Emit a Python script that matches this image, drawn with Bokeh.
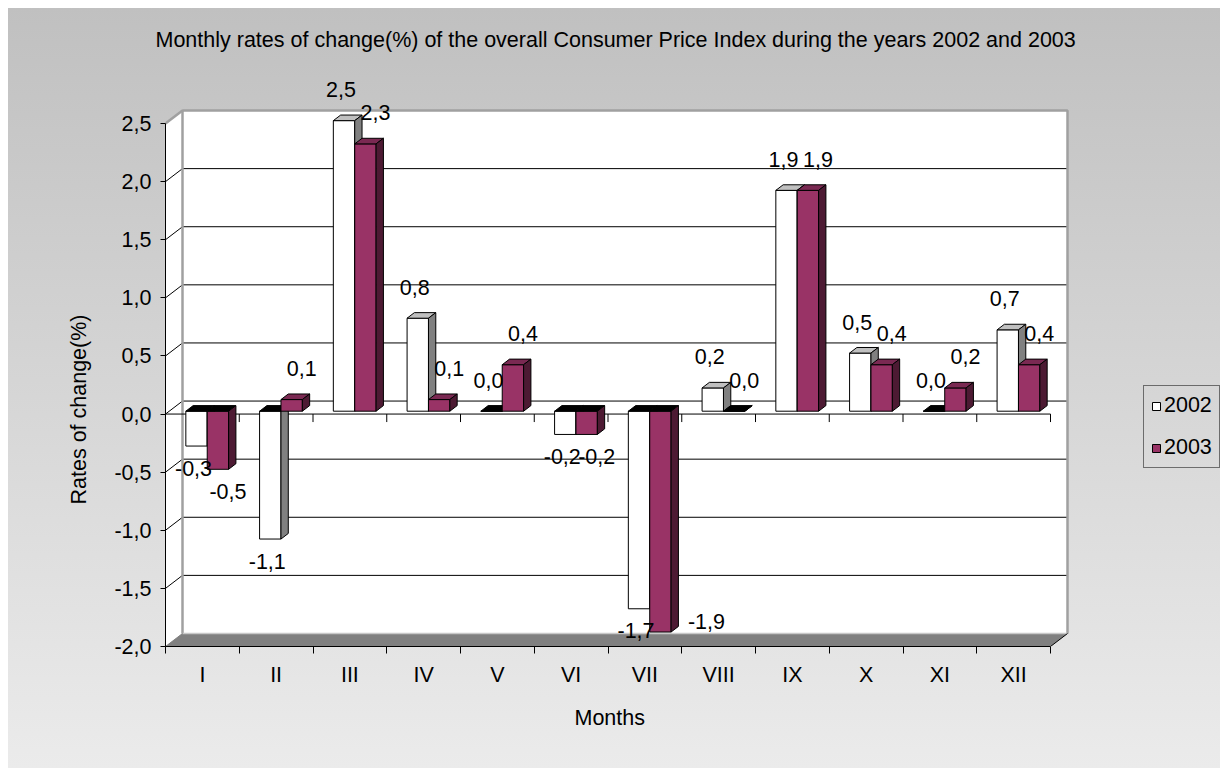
from bokeh.plotting import figure
from bokeh.models import (LinearAxis, FixedTicker, CustomJSTickFormatter, Range1d,
                          Legend, LegendItem, Title)
from bokeh.embed import file_html
from bokeh.resources import INLINE
from bokeh.core.properties import value

# ---------------- data ----------------
months = ["I", "II", "III", "IV", "V", "VI", "VII", "VIII", "IX", "X", "XI", "XII"]
rates_2002 = [-0.3, -1.1, 2.5, 0.8, 0.0, -0.2, -1.7, 0.2, 1.9, 0.5, 0.0, 0.7]
rates_2003 = [-0.5, 0.1, 2.3, 0.1, 0.4, -0.2, -1.9, 0.0, 1.9, 0.4, 0.2, 0.4]
series_names = ["2002", "2003"]
y_ticks = [-2.0, -1.5, -1.0, -0.5, 0.0, 0.5, 1.0, 1.5, 2.0, 2.5]
chart_title = ("Monthly rates of change(%) of the overall Consumer Price Index "
               "during the years 2002 and 2003")
y_title = "Rates of change(%)"
x_title = "Months"

# ---------------- layout / style ----------------
FONT = "Liberation Sans"
FS = "21.5px"
W, H = 1212, 760
LEFT_PX, BOTTOM_PX, TOP_PX = 157, 122, 58
FW, FH = W - LEFT_PX, H - BOTTOM_PX - TOP_PX
N = len(months)
Y_MIN, Y_MAX = y_ticks[0], y_ticks[-1]
PX_X = 885.0 / N
PX_Y = 523.0 / (Y_MAX - Y_MIN)
UX, UY = 1.0 / PX_X, 1.0 / PX_Y
X_END = FW * UX
Y_END = Y_MIN + FH * UY

DX, DY = 17 * UX, 13 * UY          # depth of the 3-D box
BZ0, BZ1 = 0.22, 0.65              # bar depth (fraction of box depth)
BAR_LEFT, BAR_W = 0.225, 0.29

fill_front = ["#ffffff", "#993366"]
fill_side = ["#808080", "#4d1a33"]
fill_top = ["#c0c0c0", "#7a2952"]
fill_base = "#000000"

p = figure(width=W, height=H, x_range=Range1d(0, X_END), y_range=Range1d(Y_MIN, Y_END),
           output_backend="svg", toolbar_location=None,
           min_border_left=LEFT_PX, min_border_bottom=BOTTOM_PX,
           min_border_top=TOP_PX, min_border_right=0,
           x_axis_type=None, y_axis_type=None)
p.margin = (8, 0, 0, 8)
p.background_fill_alpha = 0
p.border_fill_alpha = 0
p.outline_line_color = None
p.styles = {"background-image": "linear-gradient(to bottom, #c0c0c0 0%, #ebebeb 100%)"}

# chart title
p.title.text = chart_title
p.title.align = "left"
p.title.offset = -10
p.title.vertical_align = "middle"
p.title.standoff = 27
p.title.text_font = FONT
p.title.text_font_size = FS
p.title.text_font_style = "normal"
p.title.text_color = "black"

# walls
p.patches([[0, 0, DX, DX], [DX, N + DX, N + DX, DX]],
          [[Y_MIN, Y_MAX, Y_MAX + DY, Y_MIN + DY],
           [Y_MIN + DY, Y_MIN + DY, Y_MAX + DY, Y_MAX + DY]],
          fill_color="white", line_color=None)

# gridlines on back wall and left wall
gx, gy = [], []
for v in y_ticks[1:-1]:
    gx.append([DX, N + DX]); gy.append([v + DY, v + DY])
    gx.append([0, DX]); gy.append([v, v + DY])
p.multi_line(gx, gy, line_color="black", line_width=1)

# wall borders
p.multi_line([[DX, DX, N + DX, N + DX], [0, DX]],
             [[Y_MIN + DY, Y_MAX + DY, Y_MAX + DY, Y_MIN + DY], [Y_MAX, Y_MAX + DY]],
             line_color="#a0a0a0", line_width=2.5)

# floor
p.patch([0, N, N + DX, DX], [Y_MIN, Y_MIN, Y_MIN + DY, Y_MIN + DY],
        fill_color="#808080", line_color=None)
p.line([DX, N + DX], [Y_MIN + DY, Y_MIN + DY], line_color="#c8c8c8", line_width=1.5)
p.line([N, N + DX], [Y_MIN, Y_MIN + DY], line_color="black", line_width=1)
p.line([0, DX], [Y_MIN, Y_MIN + DY], line_color="#808080", line_width=1)

# zero line with ticks (front plane)
zx = [[0, N]] + [[i, i] for i in range(N + 1)]
zy = [[0, 0]] + [[0, -8 * UY] for _ in range(N + 1)]
p.multi_line(zx, zy, line_color="black", line_width=1)

# bars (painter's order)
bxs, bys, bcs = [], [], []
front_index = {}
lab_x, lab_y, lab_t = [], [], []
fx, fy = BZ0 * DX, BZ0 * DY
kx, ky = BZ1 * DX, BZ1 * DY
label_shift = [-3, 10]
for c in range(N):
    for s, vals in enumerate((rates_2002, rates_2003)):
        v = vals[c]
        x0 = c + BAR_LEFT + s * BAR_W
        x1 = x0 + BAR_W
        lo, hi = min(0.0, v), max(0.0, v)
        if s not in front_index:
            front_index[s] = len(bxs)
        bxs.append([x0 + fx, x1 + fx, x1 + fx, x0 + fx])
        bys.append([lo + fy, lo + fy, hi + fy, hi + fy])
        bcs.append(fill_front[s])
        bxs.append([x0 + fx, x1 + fx, x1 + kx, x0 + kx])
        bys.append([hi + fy, hi + fy, hi + ky, hi + ky])
        bcs.append(fill_top[s] if v > 0 else fill_base)
        bxs.append([x1 + fx, x1 + kx, x1 + kx, x1 + fx])
        bys.append([lo + fy, lo + ky, hi + ky, hi + fy])
        bcs.append(fill_side[s])
        # data label
        cx = (x0 + x1) / 2 + fx + label_shift[s] * UX
        if v >= 0:
            ly = hi + fy + 31 * UY
        else:
            ly = lo + fy - 22 * UY
            if ly < Y_MIN + 12 * UY:
                ly = lo + fy + 11 * UY
                cx = x1 + kx + 28 * UX
        lab_x.append(cx); lab_y.append(ly)
        lab_t.append(("%.1f" % v).replace(".", ","))

bars = p.patches(bxs, bys, fill_color=bcs, line_color="black", line_width=1)

p.text(lab_x, lab_y, text=lab_t, text_font=value(FONT), text_font_size=FS,
       text_align="center", text_baseline="middle", text_color="black")

# axes
yax = LinearAxis(bounds=(Y_MIN, Y_MAX), ticker=FixedTicker(ticks=y_ticks),
                 formatter=CustomJSTickFormatter(code="return tick.toFixed(1).replace('.', ',');"))
xax = LinearAxis(bounds=(0, N),
                 ticker=FixedTicker(ticks=[i + 0.5 for i in range(N)],
                                    minor_ticks=list(range(N + 1))),
                 formatter=CustomJSTickFormatter(args=dict(labels=months),
                                                 code="return labels[Math.floor(tick)];"))
for ax in (yax, xax):
    ax.axis_line_color = "black"
    ax.axis_line_width = 1
    ax.major_tick_line_color = "black"
    ax.minor_tick_line_color = "black"
    ax.major_label_text_font = FONT
    ax.major_label_text_font_size = FS
    ax.major_label_text_color = "black"
yax.major_tick_out = 5
yax.major_tick_in = 0
yax.minor_tick_out = 0
yax.minor_tick_in = 0
yax.major_label_standoff = 9
xax.major_tick_out = 0
xax.major_tick_in = 0
xax.minor_tick_out = 7
xax.minor_tick_in = 0
xax.major_label_standoff = 9
p.add_layout(yax, "left")
p.add_layout(xax, "below")

# axis titles
yt = Title(text=y_title, align="left", offset=142 - TOP_PX * 0, vertical_align="middle",
           text_font=FONT, text_font_size=FS, text_font_style="normal",
           text_color="black", standoff=40)
xt = Title(text=x_title, align="left", offset=409, vertical_align="middle",
           text_font=FONT, text_font_size=FS, text_font_style="normal",
           text_color="black", standoff=30)
p.add_layout(yt, "left")
p.add_layout(xt, "below")

legend = Legend(items=[LegendItem(label=series_names[s], renderers=[bars], index=front_index[s])
                       for s in range(2)],
                location=(978, 178))
legend.border_line_color = "black"
legend.border_line_width = 1
legend.background_fill_alpha = 0
legend.label_text_font = FONT
legend.label_text_font_size = FS
legend.label_text_color = "black"
legend.glyph_width = 10
legend.glyph_height = 10
legend.label_height = 20
legend.label_standoff = 3
legend.padding = 7
legend.spacing = 17
legend.margin = 0
p.add_layout(legend)

open("out.html", "w").write(file_html(p, INLINE))
